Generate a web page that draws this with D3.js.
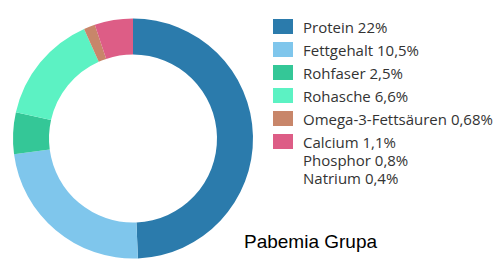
<!DOCTYPE html>
<html>
<head>
<meta charset="utf-8">
<script src="https://cdn.jsdelivr.net/npm/d3@7"></script>
<style>
  body { margin: 0; background: #fff; }
</style>
</head>
<body>
<div class="container"></div>
<script>
var w = 496;
var h = 278;

// legend entries, the last one groups the minerals in one slice
var labels = ["Protein 22%", "Fettgehalt 10,5%", "Rohfaser 2,5%", "Rohasche 6,6%", "Omega-3-Fettsäuren 0,68%", "Calcium 1,1%"];
var values = [22, 10.5, 2.5, 6.6, 0.68, 1.1];
var colors = ["#2b7bac", "#7fc6ec", "#34c797", "#5cf2c3", "#c8866a", "#dd5d86"];
var extraLabels = ["Phosphor 0,8%", "Natrium 0,4%"];
var extraValues = [0.8, 0.4];

// pink slice holds calcium + phosphor + natrium
var sliceValues = values.slice();
sliceValues[5] = values[5] + d3.sum(extraValues);

var Graphic = d3.select('.container')
  .append('svg')
  .attr('width', w)
  .attr('height', h);

var pie = d3.pie().sort(null).value(d => d);
var arc = d3.arc().innerRadius(84).outerRadius(120);

var donut = Graphic.append('g')
  .attr('transform', 'translate(133, 138.5)');

donut.selectAll('path')
  .data(pie(sliceValues))
  .enter()
  .append('path')
  .attr('d', arc)
  .style('fill', (d, i) => colors[i]);

var legend = Graphic.append('g')
  .attr('id', 'legend')
  .attr('transform', 'translate(273, 19)');

var rows = legend.selectAll('g')
  .data(labels)
  .enter()
  .append('g')
  .attr('transform', (d, i) => 'translate(0,' + (i * 23) + ')');

rows.append('rect')
  .attr('width', 20)
  .attr('height', 15)
  .style('fill', (d, i) => colors[i]);

rows.append('text')
  .attr('x', 30)
  .attr('y', 13.5)
  .style('font-family', 'Open Sans')
  .style('font-size', '15px')
  .style('fill', '#333')
  .text(d => d);

legend.selectAll('.extra')
  .data(extraLabels)
  .enter()
  .append('text')
  .attr('class', 'extra')
  .attr('x', 30)
  .attr('y', (d, i) => 5 * 23 + 13.5 + (i + 1) * 18)
  .style('font-family', 'Open Sans')
  .style('font-size', '15px')
  .style('fill', '#333')
  .text(d => d);

Graphic.append('text')
  .attr('x', 244)
  .attr('y', 247.5)
  .style('font-family', 'Liberation Sans, Arial')
  .style('font-size', '19px')
  .style('fill', '#000')
  .text('Pabemia Grupa');
</script>
</body>
</html>
